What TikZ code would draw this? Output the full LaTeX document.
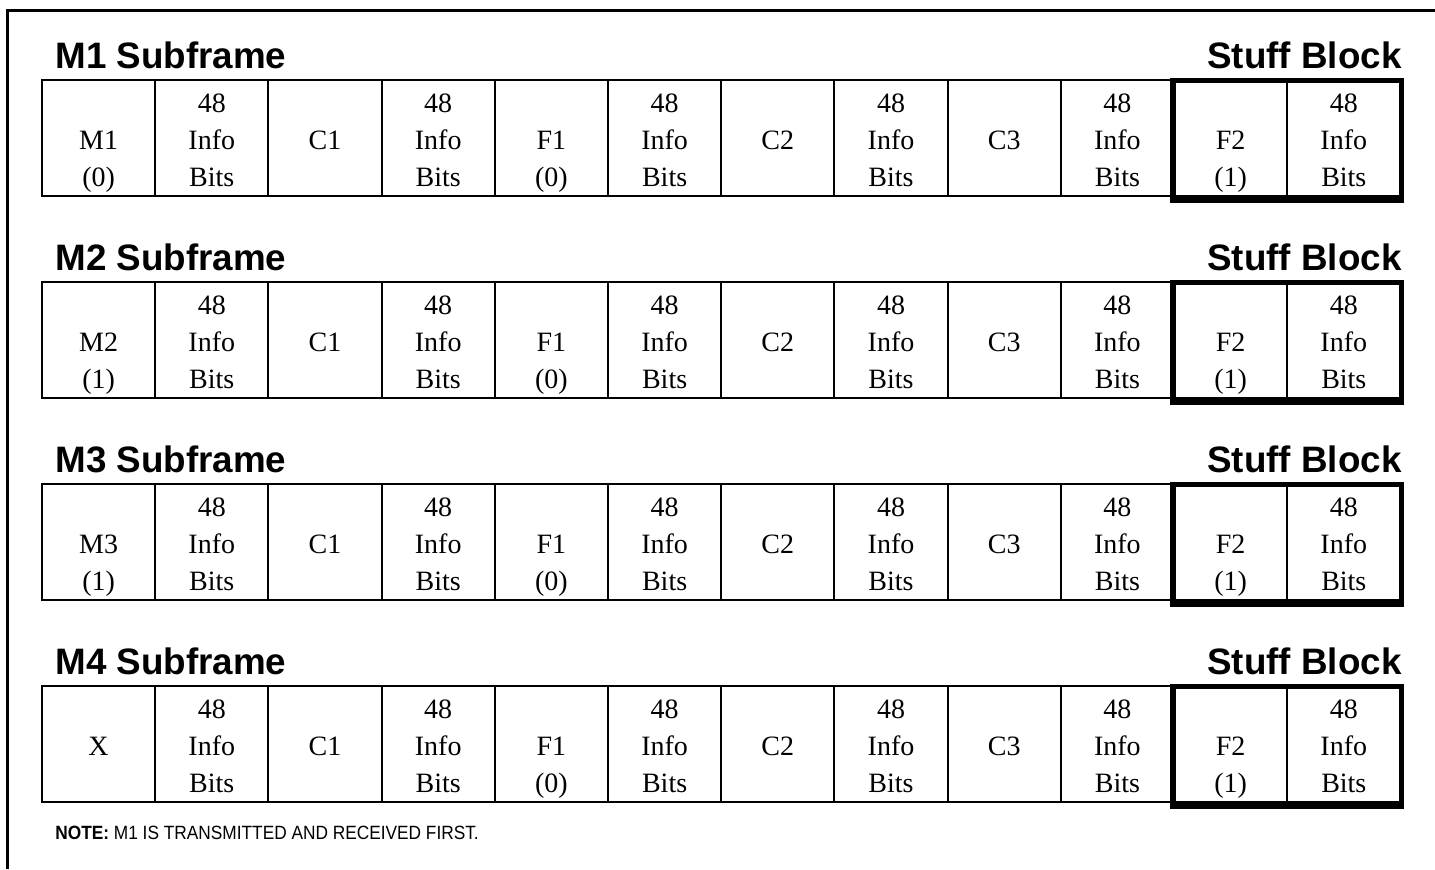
\documentclass[tikz,border=0pt]{standalone}
\usepackage{fontspec}
\setmainfont{Liberation Serif}
\setsansfont{Liberation Sans}
\newfontfamily\notefont[FakeStretch=0.9]{Liberation Sans}
\usepackage{tikz}
\usetikzlibrary{positioning}

\newcommand{\bitcell}[3]{\strut#1\\\strut#2\\\strut#3}
\newcommand{\infobits}{\bitcell{48}{Info}{Bits}}

\begin{document}
\begin{tikzpicture}[x=0.5pt, y=-0.5pt,
	cellbox/.style={draw, line width=1pt, minimum width=56.6pt, minimum height=58pt, inner sep=0pt, anchor=north west},
	celltext/.style={align=center, inner sep=0pt, font=\fontsize{14}{18.5}\selectfont},
	rowtitle/.style={inner sep=0pt, anchor=base west, font=\sffamily\bfseries\fontsize{18.4}{20}\selectfont},
	stuffbox/.style={draw, line width=2.75pt},
	notetext/.style={inner sep=0pt, anchor=base west, font=\notefont\fontsize{9.6}{11}\selectfont}]
	\useasboundingbox (0,0) rectangle (1435,869);
	\draw[line width=1.5pt] (7,869) -- (7,10) -- (1435,10);
	\foreach \r/\mname/\mbit in {1/M1/(0), 2/M2/(1), 3/M3/(1), 4/X/} {
		\node[rowtitle] (title\r) at (55,{68+(\r-1)*202}) {M\r{} Subframe};
		\node[rowtitle, anchor=base east] (stuff\r) at (1402,{68+(\r-1)*202}) {Stuff Block};
		\foreach \txt [count=\c] in {{\bitcell{}{\mname}{\mbit}}, \infobits, {\bitcell{}{C1}{}}, \infobits,
			{\bitcell{}{F1}{(0)}}, \infobits, {\bitcell{}{C2}{}}, \infobits,
			{\bitcell{}{C3}{}}, \infobits, {\bitcell{}{F2}{(1)}}, \infobits} {
			\node[cellbox] (c\r-\c) at ({41+(\c-1)*113.2},{79+(\r-1)*202}) {};
			\node[celltext] (t\r-\c) at ([yshift=-2.1pt]c\r-\c.center) {\txt};
		}
		% stuff block outline
		\draw[stuffbox] ([yshift=-0.75pt]c\r-11.north west) rectangle ([yshift=-1.5pt]c\r-12.south east);
	}
	\node[notetext] (note) at (55,839) {\textbf{NOTE:} M1 IS TRANSMITTED AND RECEIVED FIRST.};
\end{tikzpicture}
\end{document}
